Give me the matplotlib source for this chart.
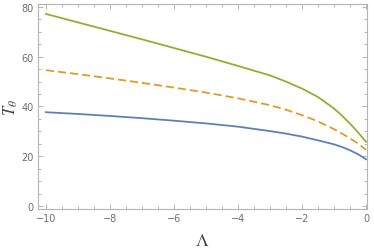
import numpy as np
import matplotlib.pyplot as plt
from matplotlib.ticker import MultipleLocator

plt.rcParams['mathtext.fontset'] = 'stix'

# values
lam = [-10, -9, -8, -7, -6, -5, -4, -3, -2.5, -2, -1.5, -1, -0.75, -0.5, -0.25, 0]
t_green = [77.2, 73.8, 70.4, 67.0, 63.5, 60.0, 56.3, 52.5, 50.0, 47.2, 43.8, 39.2, 36.3, 33.1, 29.6, 25.8]
t_orange = [54.6, 53.0, 51.3, 49.5, 47.6, 45.6, 43.3, 40.5, 38.7, 36.5, 34.0, 30.9, 29.1, 27.2, 25.1, 22.6]
t_blue = [37.7, 37.0, 36.2, 35.3, 34.3, 33.2, 31.9, 30.1, 29.1, 27.9, 26.4, 24.8, 23.7, 22.4, 20.8, 18.8]

frame_col = '#b4b4b4'
label_col = '#6e6e6e'

fig = plt.figure(figsize=(3.74, 2.51), dpi=100)
ax = fig.add_axes([38/374, 1-210/251, (367-38)/374, (210-4.5)/251])

ax.plot(lam, t_blue, color='#5e81b5', lw=1.3)
ax.plot(lam, t_orange, color='#e19c24', lw=1.3, dashes=(4.5, 2.2))
ax.plot(lam, t_green, color='#8fb032', lw=1.3)

ax.set_xlim(-10.25, 0.03)
ax.set_ylim(-1.2, 81.4)

ax.xaxis.set_major_locator(MultipleLocator(2))
ax.xaxis.set_minor_locator(MultipleLocator(0.5))
ax.yaxis.set_major_locator(MultipleLocator(20))
ax.yaxis.set_minor_locator(MultipleLocator(5))

ax.tick_params(which='both', direction='in', top=True, right=True,
               color=frame_col, width=0.7, labelsize=7, labelcolor=label_col, pad=3)
ax.tick_params(which='major', length=3.5)
ax.tick_params(which='minor', length=2)
for s in ax.spines.values():
    s.set_color(frame_col)
    s.set_linewidth(0.8)

ax.set_xlabel(r'$\Lambda$', fontsize=13, color='#444444', labelpad=6)
ax.set_ylabel(r'$T_\theta$', fontsize=12, color='#444444', labelpad=1)

fig.savefig('out.png', dpi=100)
